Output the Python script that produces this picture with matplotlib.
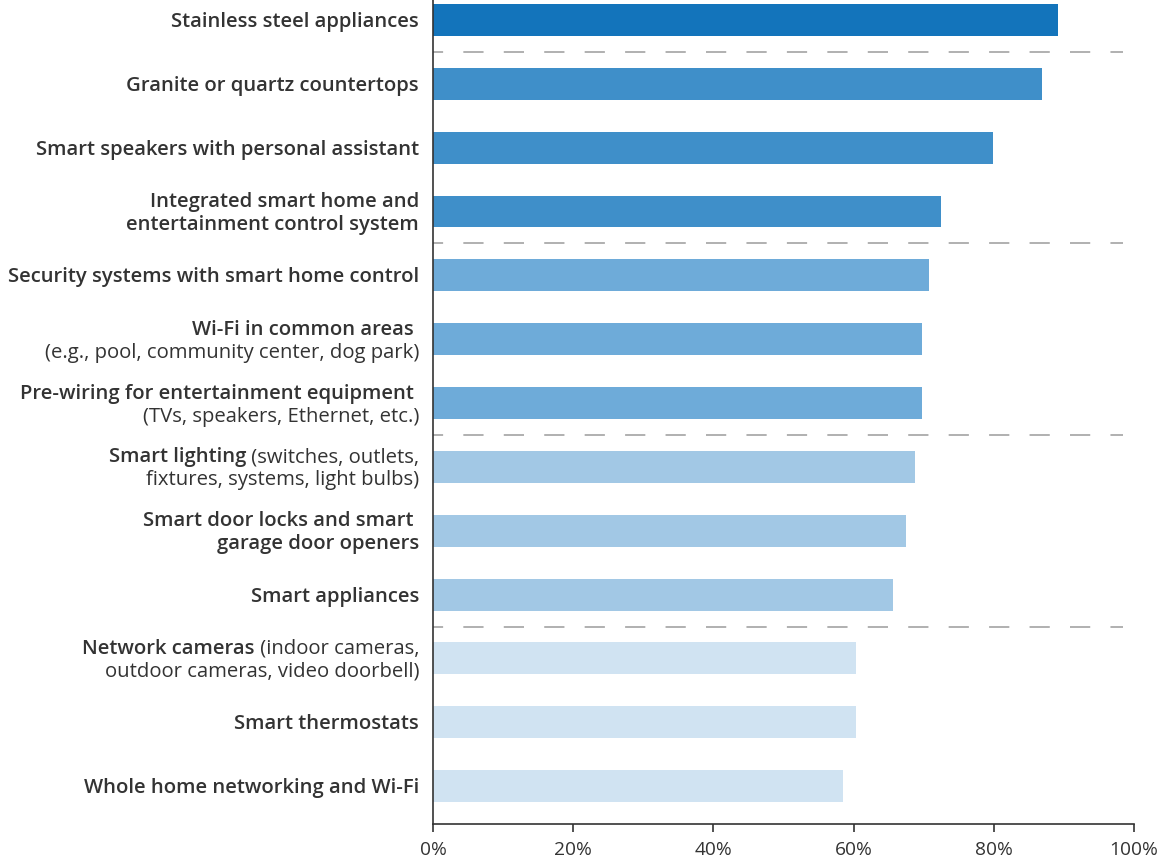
import numpy as np
import matplotlib
matplotlib.use("Agg")
import matplotlib.pyplot as plt
from matplotlib.ticker import FuncFormatter

plt.rcParams['font.family'] = ['Open Sans', 'DejaVu Sans']

# each label: list of lines, each line a list of (text, bold) pieces
labels = [
    [[("Stainless steel appliances", True)]],
    [[("Granite or quartz countertops", True)]],
    [[("Smart speakers with personal assistant", True)]],
    [[("Integrated smart home and", True)], [("entertainment control system", True)]],
    [[("Security systems with smart home control", True)]],
    [[("Wi-Fi in common areas ", True)], [("(e.g., pool, community center, dog park)", False)]],
    [[("Pre-wiring for entertainment equipment ", True)], [("(TVs, speakers, Ethernet, etc.)", False)]],
    [[("Smart lighting", True), (" (switches, outlets,", False)], [("fixtures, systems, light bulbs)", False)]],
    [[("Smart door locks and smart ", True)], [("garage door openers", True)]],
    [[("Smart appliances", True)]],
    [[("Network cameras", True), (" (indoor cameras,", False)], [("outdoor cameras, video doorbell)", False)]],
    [[("Smart thermostats", True)]],
    [[("Whole home networking and Wi-Fi", True)]],
]
values = [89.1, 86.9, 79.9, 72.5, 70.7, 69.7, 69.7, 68.7, 67.5, 65.6, 60.4, 60.4, 58.5]
colors = ['#1374bb'] + ['#3f8fc9'] * 3 + ['#6eabd9'] * 3 + ['#a2c8e5'] * 3 + ['#d0e3f2'] * 3
group_breaks = [0.5, 3.5, 6.5, 9.5]
xticks = [0, 20, 40, 60, 80, 100]

txt_color = '#333333'
fs = 14.6

fig = plt.figure(figsize=(11.71, 8.57), dpi=100)
ax = fig.add_axes([0.3698, 0.038, 0.5986, 0.962])

y = np.arange(len(values))
ax.barh(y, values, height=0.5, color=colors, zorder=2)

for b in group_breaks:
    ax.plot([0, 98.4], [b, b], color='#aaaaaa', lw=1.3, linestyle=(5.6, (11.2, 11.2)), zorder=1)

ax.set_ylim(len(values) - 1 + 0.6, -0.3125)
ax.set_xlim(0, 100)
ax.set_xticks(xticks)
ax.xaxis.set_major_formatter(FuncFormatter(lambda v, p: f"{v:.0f}%"))
ax.set_yticks([])
for s in ['top', 'right']:
    ax.spines[s].set_visible(False)
for s in ['left', 'bottom']:
    ax.spines[s].set_color('#333333')
    ax.spines[s].set_linewidth(1.2)
ax.tick_params(axis='x', length=6, width=1.2, color='#333333', labelsize=13.8, labelcolor=txt_color, pad=6)

# y labels, drawn right to left so bold and regular pieces can share a line
line_h = 23 / 64  # in data units
for i, lab in enumerate(labels):
    n = len(lab)
    for j, line in enumerate(lab):
        yy = i + (j - (n - 1) / 2) * line_h
        prev = None
        for text, bold in reversed(line):
            kw = dict(fontsize=fs, color=txt_color, ha='right', va='center',
                      fontweight='semibold' if bold else 'normal')
            if prev is None:
                prev = ax.annotate(text, xy=(0, yy), xycoords=('axes fraction', 'data'),
                                   xytext=(-14, -2), textcoords='offset pixels', **kw)
            else:
                prev = ax.annotate(text, xy=(0, 0.5), xycoords=prev, **kw)

fig.savefig('out.png', dpi=100)
